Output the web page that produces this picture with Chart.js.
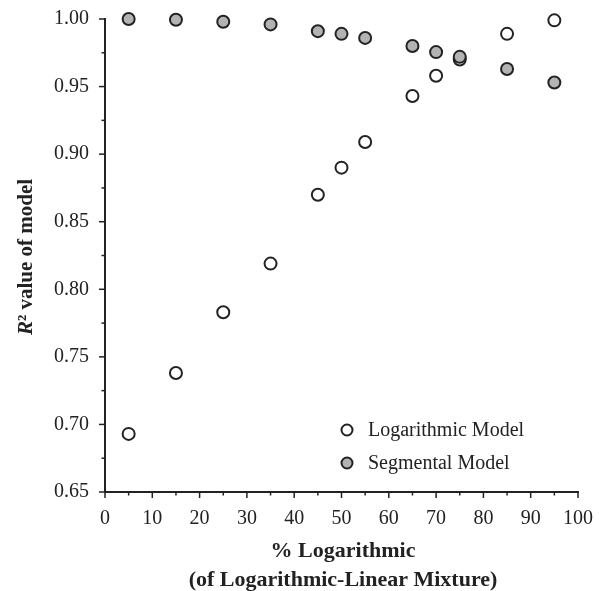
<!DOCTYPE html>
<html>
<head>
<meta charset="utf-8">
<script src="https://cdn.jsdelivr.net/npm/chart.js@4/dist/chart.umd.min.js"></script>
<style>
  html, body { margin: 0; padding: 0; background: #fff; }
  #cv { display: block; }
</style>
</head>
<body>
<canvas id="cv" width="599" height="591"></canvas>
<script>
// % logarithmic in the mixture
const pctLog = [5, 15, 25, 35, 45, 50, 55, 65, 70, 75, 85, 95];
// R² of each model
const logModel = [0.693, 0.738, 0.783, 0.819, 0.870, 0.890, 0.909, 0.943, 0.958, 0.970, 0.989, 0.999];
const segModel = [1.000, 0.9995, 0.998, 0.996, 0.991, 0.989, 0.986, 0.980, 0.9755, 0.972, 0.963, 0.953];

const xTicks = [0, 10, 20, 30, 40, 50, 60, 70, 80, 90, 100];
const yTicks = [0.65, 0.70, 0.75, 0.80, 0.85, 0.90, 0.95, 1.00];

const INK = '#222';
const SERIF = '"Liberation Serif", "Times New Roman", serif';

const toPts = ys => pctLog.map((x, i) => ({ x, y: ys[i] }));

// minor + major ticks, legend and axis titles
const decor = {
  id: 'decor',
  afterDraw(chart) {
    const ctx = chart.ctx;
    const xs = chart.scales.x, ys = chart.scales.y;
    const a = chart.chartArea;
    ctx.save();
    ctx.strokeStyle = INK;
    ctx.lineWidth = 1.5;
    for (let v = 0; v <= 100; v += 5) {
      const px = xs.getPixelForValue(v);
      const len = v % 10 === 0 ? 6 : 3.5;
      ctx.beginPath();
      ctx.moveTo(px, a.bottom);
      ctx.lineTo(px, a.bottom + len);
      ctx.stroke();
    }
    for (let k = 0; k <= 14; k++) {
      const v = 0.65 + k * 0.025;
      const py = ys.getPixelForValue(v);
      const len = k % 2 === 0 ? 6 : 3.5;
      ctx.beginPath();
      ctx.moveTo(a.left, py);
      ctx.lineTo(a.left - len, py);
      ctx.stroke();
    }

    // legend
    const items = [
      { label: 'Logarithmic Model', ds: chart.data.datasets[0], y: 430 },
      { label: 'Segmental Model', ds: chart.data.datasets[1], y: 463 }
    ];
    ctx.font = '20px ' + SERIF;
    ctx.textBaseline = 'middle';
    ctx.textAlign = 'left';
    items.forEach(it => {
      ctx.beginPath();
      ctx.arc(347, it.y, 5.5, 0, Math.PI * 2);
      ctx.fillStyle = it.ds.backgroundColor;
      ctx.fill();
      ctx.lineWidth = 2;
      ctx.strokeStyle = it.ds.borderColor;
      ctx.stroke();
      ctx.fillStyle = INK;
      ctx.fillText(it.label, 368, it.y + 1);
    });

    // x title
    ctx.font = 'bold 22px ' + SERIF;
    ctx.textAlign = 'center';
    ctx.fillText('% Logarithmic', 343, 551);
    ctx.fillText('(of Logarithmic-Linear Mixture)', 343, 580);

    // y title with italic R
    ctx.translate(27, 257);
    ctx.rotate(-Math.PI / 2);
    const rFont = 'italic bold 21px ' + SERIF;
    const restFont = 'bold 21px ' + SERIF;
    const rest = '\u00B2 value of model';
    ctx.font = rFont;
    const wR = ctx.measureText('R').width;
    ctx.font = restFont;
    const wRest = ctx.measureText(rest).width;
    const sx = -(wR + wRest) / 2;
    ctx.textAlign = 'left';
    ctx.font = rFont;
    ctx.fillText('R', sx, 0);
    ctx.font = restFont;
    ctx.fillText(rest, sx + wR, 0);
    ctx.restore();
  }
};

new Chart(document.getElementById('cv').getContext('2d'), {
  type: 'scatter',
  data: {
    datasets: [
      {
        label: 'Logarithmic Model',
        data: toPts(logModel),
        backgroundColor: '#ffffff',
        borderColor: INK,
        borderWidth: 2,
        pointRadius: 6,
        clip: false,
        order: 1
      },
      {
        label: 'Segmental Model',
        data: toPts(segModel),
        backgroundColor: '#b3b3b3',
        borderColor: INK,
        borderWidth: 2,
        pointRadius: 6,
        clip: false,
        order: 0
      }
    ]
  },
  options: {
    responsive: false,
    animation: false,
    layout: { padding: { top: 19, right: 21, left: 0, bottom: 0 } },
    plugins: { legend: { display: false }, tooltip: { enabled: false } },
    scales: {
      x: {
        type: 'linear',
        min: 0, max: 100,
        afterBuildTicks: s => { s.ticks = xTicks.map(v => ({ value: v })); },
        afterFit: s => { s.height = 99; s.paddingLeft = 0; s.paddingRight = 0; },
        grid: { display: false, drawTicks: false },
        border: { display: true, color: INK, width: 2 },
        ticks: { color: INK, font: { family: SERIF, size: 20 }, padding: 15, maxRotation: 0 }
      },
      y: {
        type: 'linear',
        min: 0.65, max: 1.0,
        afterBuildTicks: s => { s.ticks = yTicks.map(v => ({ value: v })); },
        afterFit: s => { s.width = 105; s.paddingTop = 0; s.paddingBottom = 0; },
        grid: { display: false, drawTicks: false },
        border: { display: true, color: INK, width: 2 },
        ticks: {
          color: INK, font: { family: SERIF, size: 20 }, padding: 16,
          callback: v => v.toFixed(2)
        }
      }
    }
  },
  plugins: [decor]
});
</script>
</body>
</html>
